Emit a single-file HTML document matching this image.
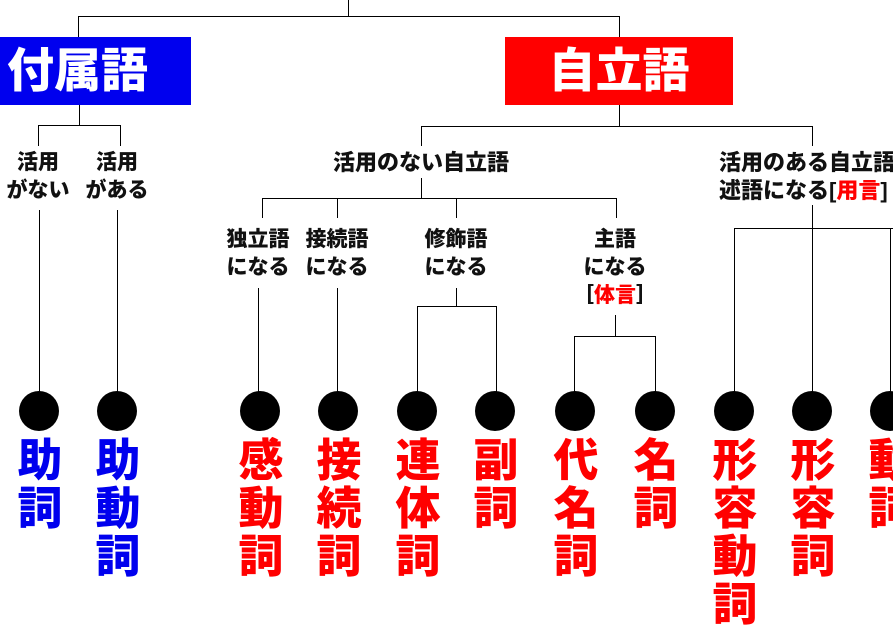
<!DOCTYPE html>
<html><head><meta charset="utf-8"><style>
body{margin:0;width:893px;height:605px;overflow:hidden;background:#fff;position:relative;font-family:"Liberation Sans","Noto Sans CJK JP",sans-serif;}
.l{position:absolute;background:#000;}
.t{position:absolute;font-weight:900;font-size:21px;line-height:28px;text-align:center;white-space:nowrap;color:#111;}
.box{position:absolute;color:#fff;font-weight:900;font-size:47px;line-height:68px;text-align:center;}
.dot{position:absolute;width:40px;height:40px;border-radius:50%;background:#000;}
.big{position:absolute;width:60px;text-align:center;font-weight:900;font-size:45px;line-height:48px;top:437px;}
.r{color:#f00}.b{color:#0000ee}
</style></head><body>
<div class="l" style="left:348px;top:0;width:1px;height:16px"></div>
<div class="l" style="left:78px;top:16px;width:542px;height:1px"></div>
<div class="l" style="left:78px;top:16px;width:1px;height:21px"></div>
<div class="l" style="left:619px;top:16px;width:1px;height:21px"></div>
<div class="box" style="left:0;top:37px;width:191px;background:#0000ee;text-align:left;padding-left:7px;box-sizing:border-box">付属語</div>
<div class="box" style="left:505px;top:37px;width:228px;background:#f00">自立語</div>
<div class="l" style="left:79px;top:105px;width:1px;height:20px"></div>
<div class="l" style="left:38px;top:125px;width:83px;height:1px"></div>
<div class="l" style="left:38px;top:125px;width:1px;height:21px"></div>
<div class="l" style="left:120px;top:125px;width:1px;height:21px"></div>
<div class="t" style="left:-2px;top:149px;width:80px">活用<br>がない</div>
<div class="t" style="left:77px;top:149px;width:80px">活用<br>がある</div>
<div class="l" style="left:39px;top:210px;width:1px;height:185px"></div>
<div class="l" style="left:117px;top:210px;width:1px;height:185px"></div>
<div class="l" style="left:619px;top:105px;width:1px;height:21px"></div>
<div class="l" style="left:421px;top:126px;width:392px;height:1px"></div>
<div class="l" style="left:421px;top:126px;width:1px;height:20px"></div>
<div class="l" style="left:812px;top:126px;width:1px;height:20px"></div>
<div class="t" style="left:311px;top:149px;width:220px;font-size:22px">活用のない自立語</div>
<div class="l" style="left:421px;top:178px;width:1px;height:20px"></div>
<div class="l" style="left:262px;top:198px;width:355px;height:1px"></div>
<div class="l" style="left:262px;top:198px;width:1px;height:20px"></div>
<div class="l" style="left:337px;top:198px;width:1px;height:20px"></div>
<div class="l" style="left:456px;top:198px;width:1px;height:20px"></div>
<div class="l" style="left:616px;top:198px;width:1px;height:20px"></div>
<div class="t" style="left:208px;top:226px;width:100px">独立語<br>になる</div>
<div class="t" style="left:287px;top:226px;width:100px">接続語<br>になる</div>
<div class="t" style="left:406px;top:226px;width:100px">修飾語<br>になる</div>
<div class="t" style="left:565px;top:226px;width:100px">主語<br>になる<br>［<span class="r">体言</span>］</div>
<div class="l" style="left:258px;top:288px;width:1px;height:107px"></div>
<div class="l" style="left:337px;top:288px;width:1px;height:107px"></div>
<div class="l" style="left:456px;top:288px;width:1px;height:18px"></div>
<div class="l" style="left:417px;top:306px;width:80px;height:1px"></div>
<div class="l" style="left:417px;top:306px;width:1px;height:89px"></div>
<div class="l" style="left:496px;top:306px;width:1px;height:89px"></div>
<div class="l" style="left:615px;top:315px;width:1px;height:21px"></div>
<div class="l" style="left:574px;top:336px;width:82px;height:1px"></div>
<div class="l" style="left:574px;top:336px;width:1px;height:59px"></div>
<div class="l" style="left:655px;top:336px;width:1px;height:59px"></div>
<div class="t" style="left:719px;top:149px;text-align:left;font-size:22px">活用のある自立語<br>述語になる[<span class="r">用言</span>]</div>
<div class="l" style="left:812px;top:205px;width:1px;height:190px"></div>
<div class="l" style="left:734px;top:228px;width:159px;height:1px"></div>
<div class="l" style="left:734px;top:228px;width:1px;height:167px"></div>
<div class="l" style="left:890px;top:228px;width:1px;height:167px"></div>
<div class="dot" style="left:19px;top:391px"></div>
<div class="dot" style="left:97px;top:391px"></div>
<div class="dot" style="left:240px;top:391px"></div>
<div class="dot" style="left:318px;top:391px"></div>
<div class="dot" style="left:397px;top:391px"></div>
<div class="dot" style="left:475px;top:391px"></div>
<div class="dot" style="left:555px;top:391px"></div>
<div class="dot" style="left:635px;top:391px"></div>
<div class="dot" style="left:714px;top:391px"></div>
<div class="dot" style="left:792px;top:391px"></div>
<div class="dot" style="left:870px;top:391px"></div>
<div class="big b" style="left:10px">助<br>詞</div>
<div class="big b" style="left:88px">助<br>動<br>詞</div>
<div class="big r" style="left:231px">感<br>動<br>詞</div>
<div class="big r" style="left:309px">接<br>続<br>詞</div>
<div class="big r" style="left:388px">連<br>体<br>詞</div>
<div class="big r" style="left:466px">副<br>詞</div>
<div class="big r" style="left:546px">代<br>名<br>詞</div>
<div class="big r" style="left:626px">名<br>詞</div>
<div class="big r" style="left:705px">形<br>容<br>動<br>詞</div>
<div class="big r" style="left:783px">形<br>容<br>詞</div>
<div class="big r" style="left:861px">動<br>詞</div>
</body></html>
